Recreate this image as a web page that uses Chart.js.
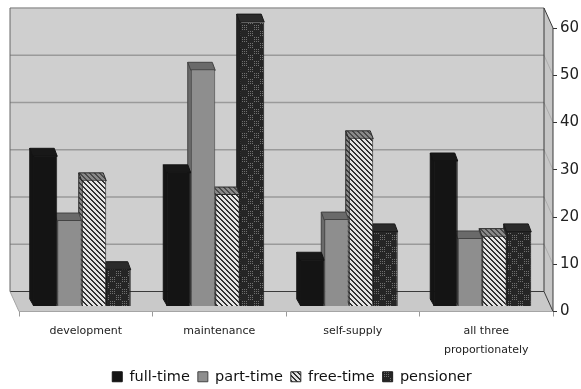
<!DOCTYPE html>
<html>
<head>
<meta charset="utf-8">
<style>html,body{margin:0;padding:0;background:#fff}#w{width:581px;height:389px}canvas{filter:blur(0.35px)}</style>
<script src="https://cdn.jsdelivr.net/npm/chart.js@4"></script>
</head>
<body>
<div id="w"><canvas id="c"></canvas></div>
<script>
const categories = ["development", "maintenance", "self-supply", ["all three", "proportionately"]];
const seriesNames = ["full-time", "part-time", "free-time", "pensioner"];
const fullTime = [32, 28.5, 10, 31];
const partTime = [18.3, 50.2, 18.5, 14.5];
const freeTime = [26.8, 23.8, 35.7, 15];
const pensioner = [8, 60.4, 16, 16];
const yTicks = [0, 10, 20, 30, 40, 50, 60];

const FONT = '"DejaVu Sans", sans-serif';
const WALL = { dx: -9, dy: -20 };
const BAR = { dx: -3, dy: -7, shiftX: -4, shiftY: -5 };

function tile(w, h, paint) {
  const c = document.createElement('canvas');
  c.width = w; c.height = h;
  paint(c.getContext('2d'));
  return c.getContext('2d').createPattern(c, 'repeat');
}
function hatch(bg, fg) {
  return tile(5, 5, g => {
    g.fillStyle = bg; g.fillRect(0, 0, 5, 5);
    g.fillStyle = fg;
    for (let i = 0; i < 5; i++) { g.fillRect(i, i, 1, 1); g.fillRect((i + 1) % 5, i, 1, 1); }
  });
}
function plaid(bg, fg) {
  return tile(12, 12, g => {
    g.fillStyle = bg; g.fillRect(0, 0, 12, 12);
    g.fillStyle = fg;
    for (let y = 0; y < 12; y += 2) for (let x = 0; x < 12; x += 2) {
      if ((x < 6) === (y < 6)) g.fillRect(x, y, 1, 1);
    }
  });
}
const fills = ['#141414', '#8e8e8e', hatch('#e4e4e4', '#333333'), plaid('#252525', '#707070')];
const tops = ['#181818', '#6a6a6a', hatch('#8a8a8a', '#4a4a4a'), '#2b2b2b'];
const sides = ['#141414', '#6a6a6a', hatch('#8a8a8a', '#3c3c3c'), '#222222'];
const edges = ['#141414', '#444', '#2a2a2a', '#1a1a1a'];
const values = [fullTime, partTime, freeTime, pensioner];

function poly(ctx, pts, fill, stroke) {
  ctx.beginPath();
  pts.forEach((p, i) => i ? ctx.lineTo(p[0], p[1]) : ctx.moveTo(p[0], p[1]));
  ctx.closePath();
  ctx.fillStyle = fill; ctx.fill();
  if (stroke) { ctx.strokeStyle = stroke; ctx.lineWidth = 1; ctx.stroke(); }
}

const room = {
  id: 'room',
  afterLayout(chart) {
    // centre the legend on the page rather than on the padded plot
    chart.legend.left -= 16;
  },
  beforeDatasetsDraw(chart) {
    const { ctx, chartArea: a, scales: { y } } = chart;
    const x0 = a.left + WALL.dx, x1 = a.right + WALL.dx;
    const top = y.getPixelForValue(60) + WALL.dy, bot = y.getPixelForValue(0) + WALL.dy;
    ctx.save();
    poly(ctx, [[x0, top], [x1, top], [x1, bot], [x0, bot]], '#cfcfcf');
    poly(ctx, [[x0, bot], [x1, bot], [a.right, a.bottom], [a.left, a.bottom]], '#c9c9c9');
    poly(ctx, [[x1, top], [a.right, a.top], [a.right, a.bottom], [x1, bot]], '#c6c6c6');
    ctx.lineWidth = 1.3; ctx.strokeStyle = '#9a9a9a';
    yTicks.forEach(v => {
      const py = y.getPixelForValue(v) + WALL.dy;
      if (v > 0) {
        ctx.beginPath(); ctx.moveTo(x0, py); ctx.lineTo(x1, py); ctx.stroke();
      }
      if (v > 0 && v < 60) {
        ctx.lineWidth = 0.6;
        ctx.beginPath(); ctx.moveTo(x1, py); ctx.lineTo(a.right, py - WALL.dy); ctx.stroke();
        ctx.lineWidth = 1.3;
      }
    });
    ctx.strokeStyle = '#3a3a3a'; ctx.lineWidth = 1;
    ctx.beginPath();
    ctx.moveTo(x1, bot); ctx.lineTo(x0, bot);
    ctx.moveTo(x1, top); ctx.lineTo(a.right, a.top); ctx.lineTo(a.right, a.bottom); ctx.lineTo(x1, bot); ctx.lineTo(x1, top);
    ctx.stroke();
    ctx.strokeStyle = '#666';
    ctx.beginPath(); ctx.moveTo(x0, top); ctx.lineTo(x0, bot); ctx.stroke();
    ctx.strokeStyle = '#a5a5a5';
    ctx.beginPath(); ctx.moveTo(x0, bot); ctx.lineTo(a.left, a.bottom); ctx.lineTo(a.right, a.bottom); ctx.stroke();

    ctx.translate(BAR.shiftX, BAR.shiftY);
    // sides and tops sit behind every front face
    chart.data.datasets.forEach((ds, di) => {
      chart.getDatasetMeta(di).data.forEach(bar => {
        const p = bar.getProps(['x', 'y', 'base', 'width'], true);
        const l = p.x - p.width / 2;
        poly(ctx, [[l + 1, p.y], [l + BAR.dx, p.y + BAR.dy], [l + BAR.dx, p.base + BAR.dy], [l + 1, p.base]], sides[di], edges[di]);
      });
    });
    chart.data.datasets.forEach((ds, di) => {
      chart.getDatasetMeta(di).data.forEach(bar => {
        const p = bar.getProps(['x', 'y', 'base', 'width'], true);
        const l = p.x - p.width / 2, r = p.x + p.width / 2;
        poly(ctx, [[l, p.y + 1], [r, p.y + 1], [r + BAR.dx, p.y + BAR.dy], [l + BAR.dx, p.y + BAR.dy]], tops[di], edges[di]);
      });
    });
  },
  afterDatasetsDraw(chart) { chart.ctx.restore(); }
};

new Chart(document.getElementById('c'), {
  type: 'bar',
  data: {
    labels: categories,
    datasets: seriesNames.map((n, i) => ({
      label: n, data: values[i], backgroundColor: fills[i],
      borderColor: edges[i], borderWidth: 1,
      categoryPercentage: 0.734, barPercentage: 1
    }))
  },
  plugins: [room],
  options: {
    responsive: true, maintainAspectRatio: false, animation: false,
    layout: { padding: { left: 19, top: 28, right: 0, bottom: -5 } },
    plugins: {
      tooltip: { enabled: false },
      legend: {
        position: 'bottom',
        labels: { boxWidth: 10, boxHeight: 10, padding: 8, color: '#111', font: { family: FONT, size: 14.5 } }
      }
    },
    scales: {
      x: {
        afterFit(s) { s.height = 50; },
        border: { display: false },
        grid: { drawOnChartArea: false, tickLength: 5, color: '#9a9a9a' },
        ticks: { color: '#222', font: { family: FONT, size: 11, lineHeight: 1.72 }, padding: 5, maxRotation: 0, autoSkip: false }
      },
      y: {
        position: 'right', min: 0, max: 60,
        afterFit(s) { s.width = 28; },
        afterBuildTicks(s) { s.ticks = yTicks.map(v => ({ value: v })); },
        border: { display: false },
        grid: { drawOnChartArea: false, tickLength: 4, color: '#333' },
        ticks: { color: '#222', font: { family: FONT, size: 15 }, padding: 3 }
      }
    }
  }
});
</script>
</body>
</html>
